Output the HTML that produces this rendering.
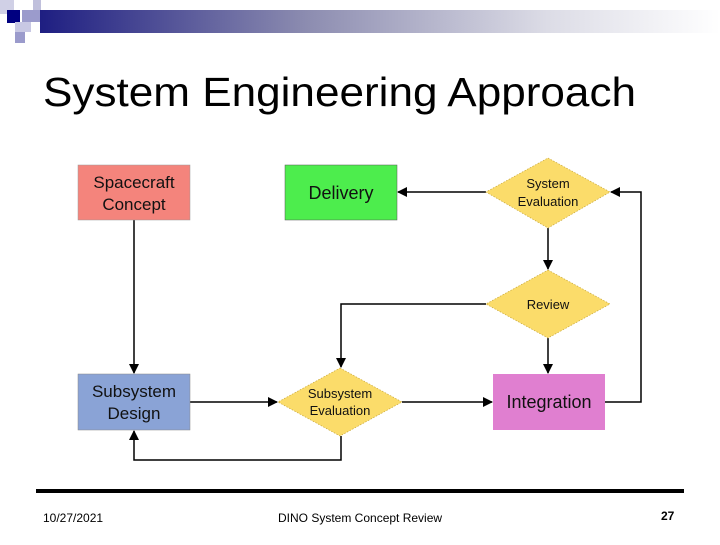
<!DOCTYPE html>
<html><head><meta charset="utf-8"><style>
body{margin:0;width:720px;height:540px;background:#fff;overflow:hidden;font-family:"Liberation Sans",sans-serif}
</style></head><body>
<svg width="720" height="540" xmlns="http://www.w3.org/2000/svg" font-family="Liberation Sans, sans-serif">
<defs>
<linearGradient id="g" x1="0" x2="1"><stop offset="0" stop-color="#1a1a80"/><stop offset="0.4" stop-color="#8c8cb0"/><stop offset="0.75" stop-color="#dcdce6"/><stop offset="1" stop-color="#fff"/></linearGradient>
<marker id="a" markerWidth="10" markerHeight="10" refX="9" refY="5" orient="auto" markerUnits="userSpaceOnUse"><path d="M0,0 L10,5 L0,10z" fill="#000"/></marker>
</defs>
<rect x="30" y="10" width="690" height="23" fill="url(#g)"/>
<rect x="0" y="0" width="40" height="43" fill="#fff"/>
<rect x="0" y="0" width="14" height="14" fill="#d0d0e6"/>
<rect x="7" y="10" width="13" height="13" fill="#000080"/>
<rect x="33" y="0" width="8" height="10" fill="#c0c0dc"/>
<rect x="22" y="10" width="18" height="12" fill="#9b9bcc"/>
<rect x="15" y="22" width="16" height="10" fill="#c8c8e4"/>
<rect x="15" y="32" width="10" height="11" fill="#9b9bcc"/>
<text x="43" y="106" font-size="41" fill="#000" textLength="593" lengthAdjust="spacingAndGlyphs">System Engineering Approach</text>
<g stroke="#000" stroke-width="1.5" fill="none">
<line x1="134" y1="220" x2="134" y2="373" marker-end="url(#a)"/>
<line x1="190" y1="402" x2="277" y2="402" marker-end="url(#a)"/>
<line x1="402" y1="402" x2="492" y2="402" marker-end="url(#a)"/>
<polyline points="605,402 641,402 641,192 611,192" marker-end="url(#a)"/>
<line x1="486" y1="192" x2="398" y2="192" marker-end="url(#a)"/>
<line x1="548" y1="228" x2="548" y2="269" marker-end="url(#a)"/>
<line x1="548" y1="338" x2="548" y2="373" marker-end="url(#a)"/>
<polyline points="486,304 341,304 341,367" marker-end="url(#a)"/>
<polyline points="341,436 341,460 134,460 134,431" marker-end="url(#a)"/>
</g>
<rect x="78" y="165" width="112" height="55" fill="#f4847c" stroke="#999" stroke-width="0.5"/>
<rect x="285" y="165" width="112" height="55" fill="#4ded4d" stroke="#555" stroke-width="0.5"/>
<rect x="78" y="374" width="112" height="56" fill="#8aa3d6" stroke="#888" stroke-width="0.5"/>
<rect x="493" y="374" width="112" height="56" fill="#e07fd0"/>
<polygon points="548,158 610,192 548,228 486,192" fill="#fbdc6a" stroke="#c9a83a" stroke-width="0.7" stroke-dasharray="1.5,1.5"/>
<polygon points="548,270 610,304 548,338 486,304" fill="#fbdc6a" stroke="#c9a83a" stroke-width="0.7" stroke-dasharray="1.5,1.5"/>
<polygon points="340,368 402,402 340,436 278,402" fill="#fbdc6a" stroke="#c9a83a" stroke-width="0.7" stroke-dasharray="1.5,1.5"/>
<g text-anchor="middle" fill="#111">
<text x="134" y="188" font-size="17">Spacecraft</text>
<text x="134" y="210" font-size="17">Concept</text>
<text x="341" y="199" font-size="18">Delivery</text>
<text x="134" y="397" font-size="17">Subsystem</text>
<text x="134" y="419" font-size="17">Design</text>
<text x="549" y="408" font-size="18">Integration</text>
<text x="548" y="188" font-size="13">System</text>
<text x="548" y="206" font-size="13">Evaluation</text>
<text x="548" y="309" font-size="13">Review</text>
<text x="340" y="398" font-size="13">Subsystem</text>
<text x="340" y="415" font-size="13">Evaluation</text>
</g>
<rect x="36" y="489" width="648" height="4" fill="#000"/>
<text x="43" y="522" font-size="12">10/27/2021</text>
<text x="278" y="522" font-size="12">DINO System Concept Review</text>
<text x="661" y="520" font-size="12" font-weight="bold">27</text>
</svg>
</body></html>
